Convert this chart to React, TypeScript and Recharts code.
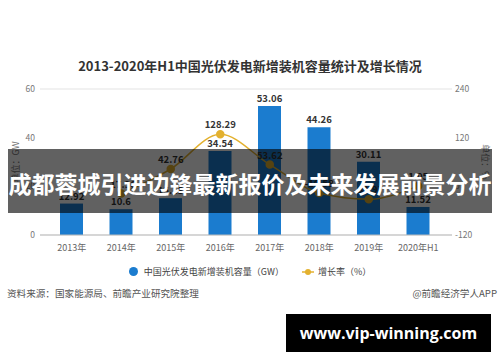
import React from 'react';
import {
  ComposedChart,
  Bar,
  Line,
  XAxis,
  YAxis,
  CartesianGrid,
  Legend,
  LabelList
} from 'recharts';

// categories and series
const years = ['2013年', '2014年', '2015年', '2016年', '2017年', '2018年', '2019年', '2020年H1'];
const capacity = [12.92, 10.6, 15.13, 34.54, 53.06, 44.26, 30.11, 11.52];
const growth = [null, -17.96, 42.76, 128.29, 53.62, -16.58, -31.97, 1.05];
const leftTicks = [0, 20, 40, 60];
const rightTicks = [-120, 0, 120, 240];

const BLUE = '#1b7ccf';
const GOLD = '#e3b12f';
const FONT = '"Noto Sans CJK SC", "Noto Sans", sans-serif';

const data = years.map((year, i) => ({ year, capacity: capacity[i], growth: growth[i] }));

const renderLegend = () => (
  <div style={{ display: 'flex', justifyContent: 'center', alignItems: 'center', fontSize: 9, color: '#444', fontFamily: FONT }}>
    <span style={{ display: 'inline-block', width: 9, height: 9, borderRadius: '50%', background: BLUE, marginRight: 6 }} />
    <span style={{ marginRight: 18 }}>中国光伏发电新增装机容量（GW）</span>
    <svg width={12} height={8} style={{ marginRight: 4 }}>
      <line x1={0} y1={4} x2={12} y2={4} stroke={GOLD} strokeWidth={1.5} />
      <circle cx={6} cy={4} r={3} fill={GOLD} />
    </svg>
    <span>增长率（%）</span>
  </div>
);

export default function App() {
  return (
    <div style={{ position: 'absolute', left: 0, top: 0, width: 500, height: 362, background: '#fff', fontFamily: FONT, overflow: 'hidden' }}>
      <div style={{ position: 'absolute', top: 56, left: 0, width: 500, textAlign: 'center', fontSize: 13, fontWeight: 'bold', color: '#333' }}>
        2013-2020年H1中国光伏发电新增装机容量统计及增长情况
      </div>

      <ComposedChart
        width={500}
        height={362}
        data={data}
        margin={{ top: 89, right: 0, bottom: 97, left: 0 }}
        style={{ position: 'absolute', left: 0, top: 0 }}
      >
        <CartesianGrid vertical={false} stroke="#e3e3e3" />
        <XAxis
          dataKey="year"
          height={30}
          padding={{ left: 7, right: 9 }}
          axisLine={{ stroke: '#bbb' }}
          tickLine={false}
          tick={{ fontSize: 9, fill: '#666' }}
          tickMargin={4}
          interval={0}
        />
        <YAxis
          yAxisId="left"
          width={40}
          domain={[0, 60]}
          ticks={leftTicks}
          axisLine={false}
          tickLine={false}
          tickSize={0}
          tickMargin={5}
          tick={{ fontSize: 8.5, fill: '#777' }}
        />
        <YAxis
          yAxisId="right"
          orientation="right"
          width={48}
          domain={[-120, 240]}
          ticks={rightTicks}
          axisLine={false}
          tickLine={false}
          tickSize={0}
          tickMargin={3}
          tick={{ fontSize: 8.5, fill: '#777' }}
        />
        <Legend verticalAlign="middle" align="center" layout="horizontal" content={renderLegend} wrapperStyle={{ top: 265, left: 0, width: 500 }} />
        <Bar yAxisId="left" dataKey="capacity" fill={BLUE} barSize={23} isAnimationActive={false}>
          <LabelList dataKey="capacity" position="top" offset={4} style={{ fontSize: 9.5, fontWeight: 'bold', fill: '#333' }} />
        </Bar>
        <Line
          yAxisId="right"
          type="monotone"
          dataKey="growth"
          stroke={GOLD}
          strokeWidth={1.5}
          dot={{ r: 3.5, fill: GOLD, stroke: GOLD }}
          connectNulls
          isAnimationActive={false}
        >
          <LabelList dataKey="growth" position="top" offset={6} style={{ fontSize: 9.5, fontWeight: 'bold', fill: '#333' }} />
        </Line>
      </ComposedChart>

      <div style={{ position: 'absolute', left: 15, top: 162, transform: 'translate(-50%, -50%) rotate(-90deg)', fontSize: 9, color: '#777', whiteSpace: 'nowrap' }}>
        单位：GW
      </div>
      <div style={{ position: 'absolute', left: 485, top: 162, transform: 'translate(-50%, -50%) rotate(90deg)', fontSize: 9, color: '#777', whiteSpace: 'nowrap' }}>
        单位：%
      </div>

      <div style={{ position: 'absolute', left: 7, top: 286, fontSize: 9.6, color: '#555' }}>
        资料来源：国家能源局、前瞻产业研究院整理
      </div>
      <div style={{ position: 'absolute', right: 3, top: 286, fontSize: 9.6, color: '#555' }}>
        @前瞻经济学人APP
      </div>

      <div style={{ position: 'absolute', left: 8, top: 149, width: 484, height: 64, background: 'rgba(0,0,0,0.62)' }} />
      <div style={{ position: 'absolute', left: 0, top: 169, width: 500, textAlign: 'center', color: '#fff', fontSize: 23, lineHeight: '28px', fontWeight: 'bold', whiteSpace: 'nowrap' }}>
        成都蓉城引进边锋最新报价及未来发展前景分析
      </div>

      <div style={{ position: 'absolute', left: 286, top: 314, width: 205, height: 38, background: '#000', display: 'flex', alignItems: 'center', justifyContent: 'center' }}>
        <span style={{ color: '#fff', fontSize: 16, fontWeight: 'bold', fontFamily: '"Open Sans", "DejaVu Sans", sans-serif' }}>www.vip-winning.com</span>
      </div>
    </div>
  );
}
